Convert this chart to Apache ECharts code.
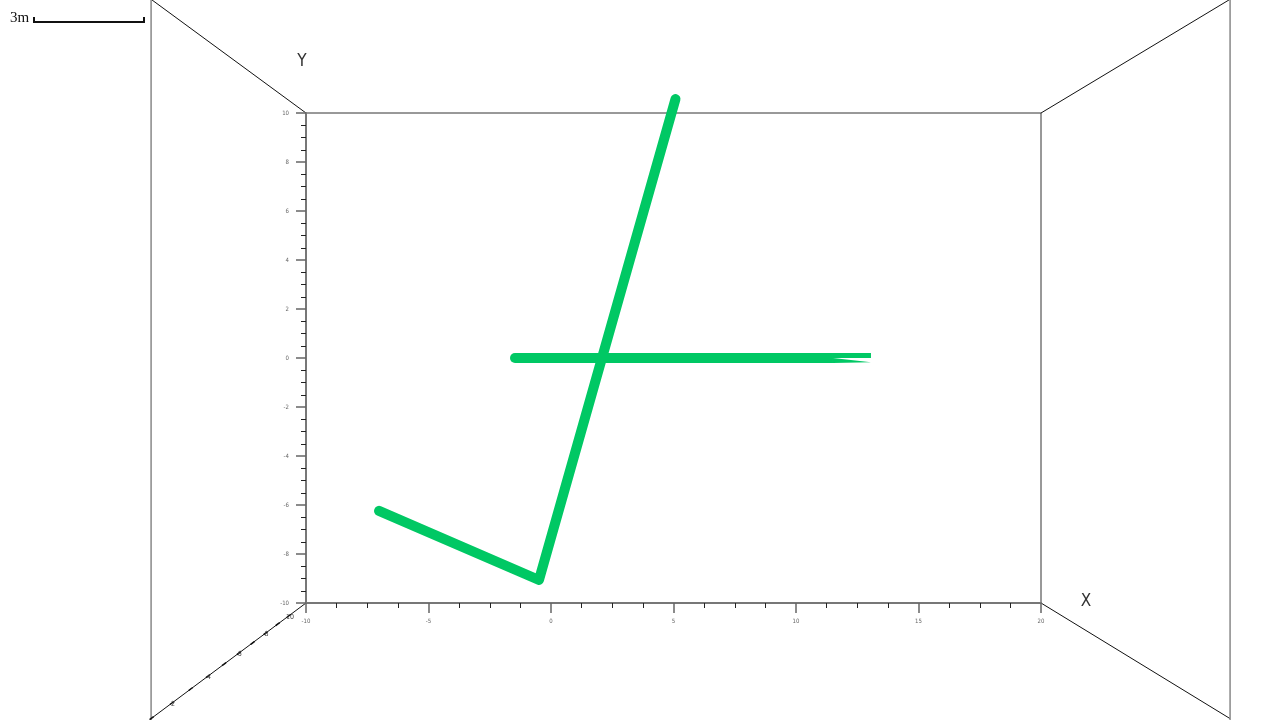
<!DOCTYPE html>
<html><head><meta charset="utf-8">
<script src="https://cdn.jsdelivr.net/npm/echarts@6/dist/echarts.min.js"></script>
<style>html,body{margin:0;padding:0;background:#fff}#c{width:1280px;height:720px}</style>
</head><body><div id="c"></div>
<script>
// Data
const xRange = [-10, 20];
const yRange = [-10, 10];
const zTicks = [2, 4, 6, 8, 10];
const hLineX = [-1.47, 11.51];
const hLineY = [0, 0];
const hTipX = [11.51, 13.06];
const hTipY = [0.1, 0.1];
const hSliver = [[11.51, 0.0], [11.51, -0.2], [13.06, -0.17]];
const vLineX = [5.08, -0.49, -7.02];
const vLineY = [10.57, -9.06, -6.24];
const lineColor = '#00c864';

const chart = echarts.init(document.getElementById('c'));
const tickFont = {fontSize: 6, color: '#666', fontFamily: 'DejaVu Sans Condensed'};
chart.setOption({
  animation: false,
  grid: {left: 306, right: 239, top: 113, bottom: 117, show: true, borderColor: '#333', borderWidth: 1},
  xAxis: {
    type: 'value', min: xRange[0], max: xRange[1], interval: 5,
    axisLine: {show: true, onZero: false, lineStyle: {color: '#777', width: 2}},
    axisTick: {show: true, length: 10, lineStyle: {color: '#666', width: 1.5}},
    minorTick: {show: true, splitNumber: 4, length: 5, lineStyle: {color: '#222', width: 1}},
    splitLine: {show: false},
    axisLabel: Object.assign({margin: 15}, tickFont)
  },
  yAxis: {
    type: 'value', min: yRange[0], max: yRange[1], interval: 2,
    axisLine: {show: true, onZero: false, lineStyle: {color: '#777', width: 2}},
    axisTick: {show: true, length: 10, lineStyle: {color: '#666', width: 1.5}},
    minorTick: {show: true, splitNumber: 4, length: 5, lineStyle: {color: '#222', width: 1}},
    splitLine: {show: false},
    axisLabel: Object.assign({margin: 17}, tickFont)
  },
  series: [
    {type: 'line', data: hLineX.map((x, i) => [x, hLineY[i]]), clip: false, showSymbol: false, symbol: 'none',
     lineStyle: {color: lineColor, width: 10, cap: 'butt'}},
    {type: 'scatter', data: [[hLineX[0], hLineY[0]]], symbolSize: 10, itemStyle: {color: lineColor, opacity: 1}, clip: false},
    {type: 'line', data: hTipX.map((x, i) => [x, hTipY[i]]), clip: false, showSymbol: false, symbol: 'none',
     lineStyle: {color: lineColor, width: 5, cap: 'butt'}},
    {type: 'custom', clip: false, data: [0],
     renderItem: (params, api) => ({type: 'polygon', shape: {points: hSliver.map(p => api.coord(p))}, style: {fill: lineColor}})},
    {type: 'line', data: vLineX.map((x, i) => [x, vLineY[i]]), clip: false, showSymbol: false, symbol: 'none',
     lineStyle: {color: lineColor, width: 10, cap: 'round', join: 'round'}}
  ]
});

// Perspective box decoration derived from the grid
const tl = chart.convertToPixel({gridIndex: 0}, [xRange[0], yRange[1]]);
const br = chart.convertToPixel({gridIndex: 0}, [xRange[1], yRange[0]]);
const vp = [637, 356];
const near = 1.468;
function proj(p, s) { return [vp[0] + (p[0] - vp[0]) * s, vp[1] + (p[1] - vp[1]) * s]; }
const corners = [[tl[0], tl[1]], [br[0], tl[1]], [br[0], br[1]], [tl[0], br[1]]];
const g = [];
corners.forEach(c => {
  const o = proj(c, near);
  g.push({type: 'line', shape: {x1: c[0], y1: c[1], x2: o[0], y2: o[1]}, style: {stroke: '#111', lineWidth: 1}, silent: true});
});
const nl = proj(corners[0], near), nr = proj(corners[1], near);
g.push({type: 'line', shape: {x1: nl[0], y1: -5, x2: nl[0], y2: 725}, style: {stroke: '#888', lineWidth: 1.5}});
g.push({type: 'line', shape: {x1: nr[0], y1: -5, x2: nr[0], y2: 725}, style: {stroke: '#888', lineWidth: 1.5}});
// z axis ticks and labels along bottom-left edge
const bl = corners[3];
for (let z = 1; z <= 10; z += 1) {
  const s = 1 / (0.652 + 0.0299 * z);
  const p = proj(bl, s);
  g.push({type: 'line', shape: {x1: p[0] - 2, y1: p[1] + 1.5, x2: p[0] + 2, y2: p[1] - 1.5}, style: {stroke: '#111', lineWidth: 1.5}});
}
zTicks.forEach(z => {
  const s = 1 / (0.652 + 0.0299 * z);
  const p = proj(bl, s);
  g.push({type: 'text', x: p[0] + 1, y: p[1] + 1, z: 10, style: {text: String(z), fontSize: 7, fill: '#444', align: 'center', verticalAlign: 'middle', fontFamily: 'DejaVu Sans Condensed'}});
});
// axis titles
g.push({type: 'text', x: 1086, y: 602, style: {text: 'X', fontSize: 17, fill: '#333', align: 'center', verticalAlign: 'middle', fontFamily: 'DejaVu Sans Condensed'}});
g.push({type: 'text', x: 302, y: 62, style: {text: 'Y', fontSize: 17, fill: '#333', align: 'center', verticalAlign: 'middle', fontFamily: 'DejaVu Sans Condensed'}});
// scale bar
g.push({type: 'text', x: 10, y: 18, style: {text: '3m', fontSize: 15, fill: '#111', align: 'left', verticalAlign: 'middle', fontFamily: 'Liberation Serif'}});
g.push({type: 'polyline', shape: {points: [[34, 17], [34, 22], [144, 22], [144, 17]]}, style: {stroke: '#111', lineWidth: 2, fill: null}});
chart.setOption({graphic: g});
</script></body></html>
